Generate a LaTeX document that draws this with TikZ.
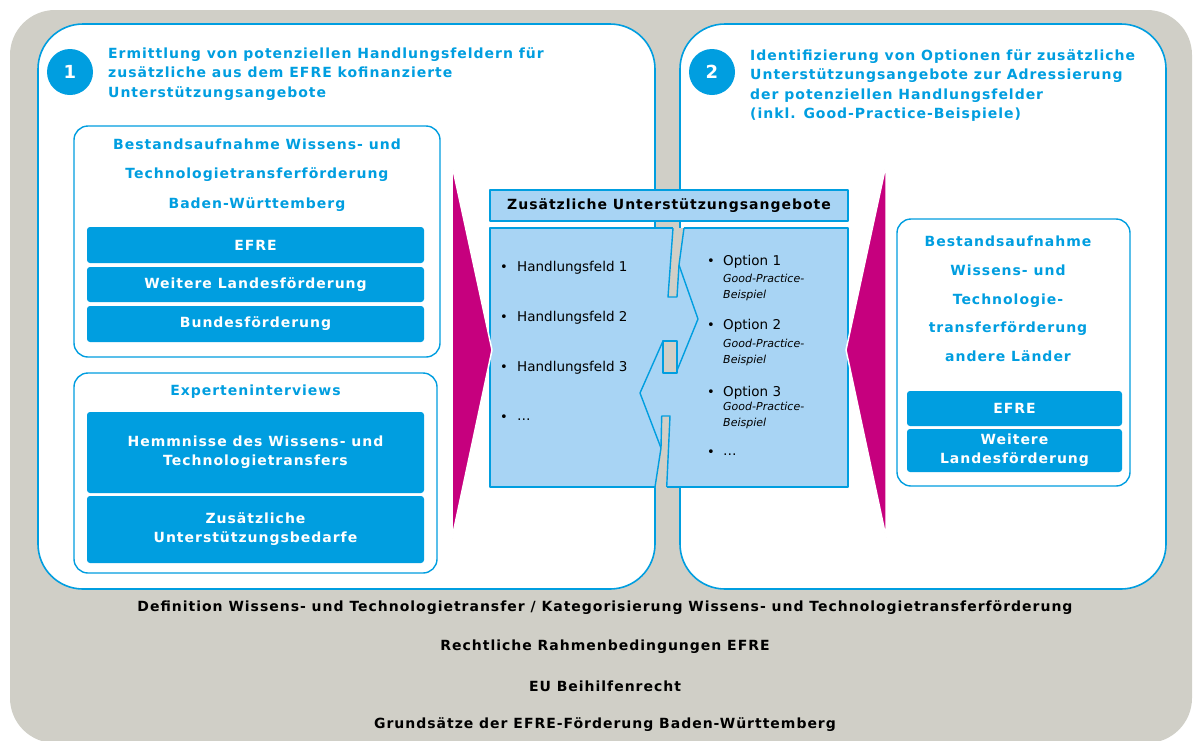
\documentclass[tikz,border=0pt]{standalone}
\usepackage{fontspec}
\setmainfont{DejaVu Sans}[BoldFeatures={LetterSpace=7}]
\definecolor{efreblau}{RGB}{0,158,224}
\definecolor{feldblau}{RGB}{168,212,244}
\definecolor{pfeilrot}{RGB}{198,0,126}
\definecolor{grundgrau}{RGB}{208,207,199}
\begin{document}
\begin{tikzpicture}[x=1pt, y=-1pt, line join=round,
  panel/.style={draw=efreblau, line width=1.6pt, fill=white, rounded corners=45pt},
  kasten/.style={draw=efreblau, line width=1.4pt, fill=white, rounded corners=14pt},
  balken/.style={fill=efreblau, rounded corners=3pt, text=white, inner sep=0pt, align=center,
    font=\bfseries\fontsize{14}{19}\selectfont},
  nummer/.style={circle, fill=efreblau, text=white, minimum size=46pt, inner sep=0pt,
    font=\bfseries\fontsize{18}{18}\selectfont},
  titel/.style={text=efreblau, inner sep=0pt, align=left, anchor=north west,
    font=\bfseries\fontsize{14}{19.5}\selectfont},
  kastentitel/.style={text=efreblau, inner sep=0pt, align=center,
    font=\bfseries\fontsize{14}{29.5}\selectfont},
  kopf/.style={draw=efreblau, line width=1.6pt, fill=feldblau, inner sep=0pt,
    font=\bfseries\fontsize{14}{17}\selectfont},
  feld/.style={draw=efreblau, line width=1.4pt},
  spalt/.style={fill=grundgrau},
  keil/.style={fill=pfeilrot, draw=white, line width=1.5pt},
  punkt/.style={inner sep=0pt, font=\fontsize{13}{15}\selectfont},
  eintrag/.style={inner sep=0pt, anchor=west, font=\fontsize{13.5}{15}\selectfont},
  beispiel/.style={inner sep=0pt, anchor=west, align=left, font=\itshape\fontsize{11}{16}\selectfont},
  fuss/.style={inner sep=0pt, font=\bfseries\fontsize{14}{17}\selectfont}]
\useasboundingbox (0,0) rectangle (1194,740);
\fill[grundgrau, rounded corners=45pt] (10,10) rectangle (1192,743);
\draw[panel] (38,24) rectangle (655,589);
\draw[panel] (680,24) rectangle (1166,589);

\node[nummer](n1) at (70,72){1};
\node[titel](t1) at (108,47){Ermittlung von potenziellen Handlungsfeldern für\\zusätzliche aus dem EFRE kofinanzierte\\Unterstützungsangebote};
\node[nummer](n2) at (712,72){2};
\node[titel](t2) at (750,49){Identifizierung von Optionen für zusätzliche\\Unterstützungsangebote zur Adressierung\\der potenziellen Handlungsfelder\\(inkl. Good-Practice-Beispiele)};

\draw[kasten] (74,126) rectangle (440,357);
\node[kastentitel](k1) at (257,175){Bestandsaufnahme Wissens- und\\Technologietransferförderung\\Baden-Württemberg};
\node[balken, minimum width=337pt, minimum height=36pt](efre1) at (255.5,245){EFRE};
\node[balken, minimum width=337pt, minimum height=35pt](land1) at (255.5,284.5){Weitere Landesförderung};
\node[balken, minimum width=337pt, minimum height=36pt](bund1) at (255.5,324){Bundesförderung};

\draw[kasten] (74,373) rectangle (437,573);
\node[kastentitel](k2) at (255.5,392){Experteninterviews};
\node[balken, minimum width=337pt, minimum height=81pt](hemm) at (255.5,452.5){Hemmnisse des Wissens- und\\Technologietransfers};
\node[balken, minimum width=337pt, minimum height=67pt](bedarf) at (255.5,529.5){Zusätzliche\\Unterstützungsbedarfe};

\draw[kasten] (897,219) rectangle (1130,486);
\node[kastentitel, font=\bfseries\fontsize{14}{28.7}\selectfont](k3) at (1008,299){Bestandsaufnahme\\Wissens- und\\Technologie-\\transferförderung\\andere Länder};
\node[balken, minimum width=215pt, minimum height=35pt](efre2) at (1014.5,408.5){EFRE};
\node[balken, minimum width=215pt, minimum height=43pt](land2) at (1014.5,450.5){Weitere\\Landesförderung};

\node[kopf, minimum width=358pt, minimum height=31pt](kopf) at (669,205.5){Zusätzliche Unterstützungsangebote};
\fill[feldblau] (490,228) rectangle (848,487);
\draw[feld] (673,228) -- (490,228) -- (490,487) -- (655,487);
\draw[feld] (684,228) -- (848,228) -- (848,487) -- (666.7,487);
\fill[spalt] (673,228) -- (668,297) -- (677,297) -- (679,265) -- (684,228) -- cycle;
\draw[feld] (673,228) -- (668,297) -- (677,297) -- (679,265) -- (684,228);
\draw[feld] (679,265) -- (698,319) -- (676,373);
\filldraw[feld, spalt] (663,341) rectangle (677,373);
\draw[feld] (663,341) -- (640,393) -- (661,448);
\fill[spalt] (655,487) -- (661,448) -- (661.7,416) -- (670,416) -- (666.7,487) -- cycle;
\draw[feld] (655,487) -- (661,448) -- (661.7,416) -- (670,416) -- (666.7,487);

\filldraw[keil] (452,165) -- (492,350) -- (452,538) -- cycle;
\filldraw[keil] (886,165) -- (846,350) -- (886,537) -- cycle;

\node[punkt](p1) at (504,268){\textbullet};
\node[eintrag](h1) at (517,268){Handlungsfeld 1};
\node[punkt](p2) at (504,318){\textbullet};
\node[eintrag](h2) at (517,318){Handlungsfeld 2};
\node[punkt](p3) at (504,368){\textbullet};
\node[eintrag](h3) at (517,368){Handlungsfeld 3};
\node[punkt](p4) at (504,418){\textbullet};
\node[eintrag](h4) at (517,420){\dots};

\node[punkt](q1) at (711,262){\textbullet};
\node[eintrag](o1) at (723,262){Option 1};
\node[beispiel](g1) at (723,287){Good-Practice-\\Beispiel};
\node[punkt](q2) at (711,326){\textbullet};
\node[eintrag](o2) at (723,326){Option 2};
\node[beispiel](g2) at (723,352){Good-Practice-\\Beispiel};
\node[punkt](q3) at (711,393){\textbullet};
\node[eintrag](o3) at (723,393){Option 3};
\node[beispiel](g3) at (723,415){Good-Practice-\\Beispiel};
\node[punkt](q4) at (711,453){\textbullet};
\node[eintrag](o4) at (723,455){\dots};

\node[fuss](f1) at (605,608){Definition Wissens- und Technologietransfer / Kategorisierung Wissens- und Technologietransferförderung};
\node[fuss](f2) at (605,647){Rechtliche Rahmenbedingungen EFRE};
\node[fuss](f3) at (605,686){EU Beihilfenrecht};
\node[fuss](f4) at (605,725){Grundsätze der EFRE-Förderung Baden-Württemberg};
\end{tikzpicture}
\end{document}
